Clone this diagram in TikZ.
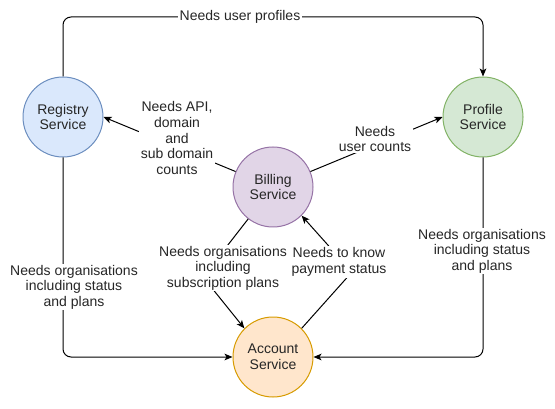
\documentclass[tikz,border=0pt]{standalone}
\usepackage{fontspec}
\setmainfont{Liberation Sans}
\usetikzlibrary{arrows.meta}
\definecolor{regfill}{HTML}{DAE8FC}
\definecolor{regline}{HTML}{6C8EBF}
\definecolor{profill}{HTML}{D5E8D4}
\definecolor{proline}{HTML}{82B366}
\definecolor{bilfill}{HTML}{E1D5E7}
\definecolor{billine}{HTML}{9673A6}
\definecolor{accfill}{HTML}{FFE6CC}
\definecolor{accline}{HTML}{D79B00}
\tikzset{
  service/.style={circle, draw, minimum size=60pt, inner sep=0pt, align=center, line width=0.75pt},
  conn/.style={->, line width=0.75pt, rounded corners=6pt},
  lbl/.style={fill=white, inner sep=1pt, align=center}
}
\begin{document}
\begin{tikzpicture}[x=0.75pt, y=-0.75pt, font=\fontsize{10.5}{11.7}\selectfont, text=black!85, line join=round, >={Stealth[length=6pt,width=5pt,inset=1.5pt]}]
			\useasboundingbox (0,0) rectangle (555,409);
			% services
			\node[service, draw=regline, fill=regfill] (registry) at (63,117) {Registry\\Service};
			\node[service, draw=proline, fill=profill] (profile) at (483,117) {Profile\\Service};
			\node[service, draw=billine, fill=bilfill] (billing) at (273,187) {Billing\\Service};
			\node[service, draw=accline, fill=accfill] (account) at (273,357) {Account\\Service};
			% connectors
			\draw[conn] (registry.north) -- (63,17) -- (483,17) -- (profile.north);
			\draw[conn] (registry.south) -- (63,357) -- (account.west);
			\draw[conn] (profile.south) -- (483,357) -- (account.east);
			\draw[conn] (billing) -- (registry.east);
			\draw[conn] (billing) -- (profile.west);
			\draw[conn] (billing) -- (203,277) -- (account.north west);
			\draw[conn] (account.north east) -- (352,272) -- (billing.south east);
			% labels
			\node[lbl] (userprof) at (240,17) {Needs user profiles};
			\node[lbl] (leftorg) at (74,287) {Needs organisations\\including status\\and plans};
			\node[lbl] (rightorg) at (482,251) {Needs organisations\\including status\\and plans};
			\node[lbl] (apicount) at (177,138) {Needs API,\\domain\\and\\sub domain\\counts};
			\node[lbl] (usercount) at (375,139) {Needs\\user counts};
			\node[lbl] (subplans) at (223,268) {Needs organisations\\including\\subscription plans};
			\node[lbl] (paystatus) at (339,262) {Needs to know\\payment status};
		\end{tikzpicture}
\end{document}
